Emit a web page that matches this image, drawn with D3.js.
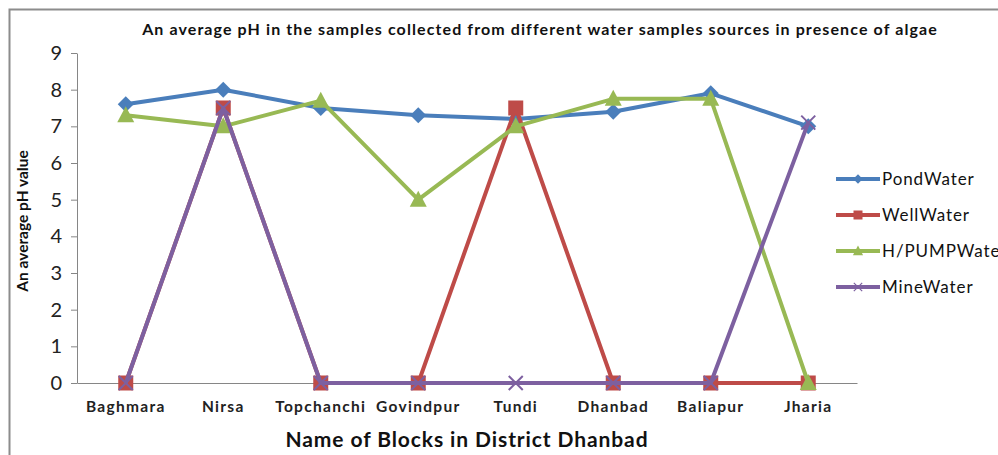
<!DOCTYPE html>
<html>
<head>
<meta charset="utf-8">
<script src="https://cdn.jsdelivr.net/npm/d3@7"></script>
<style>
  body { margin: 0; background: #fff; }
  text { font-family: Lato, "Open Sans", sans-serif; }
</style>
</head>
<body>
<div id="vis"></div>
<script>
// data
const blocks = ["Baghmara", "Nirsa", "Topchanchi", "Govindpur", "Tundi", "Dhanbad", "Baliapur", "Jharia"];
const pondWater = [7.6, 8.0, 7.5, 7.3, 7.2, 7.4, 7.9, 7.0];
const wellWater = [0, 7.5, 0, 0, 7.5, 0, 0, 0];
const pumpWater = [7.3, 7.0, 7.7, 5.0, 7.0, 7.75, 7.75, 0];
const mineWater = [0, 7.5, 0, 0, 0, 0, 0, 7.1];
const yTicks = [0, 1, 2, 3, 4, 5, 6, 7, 8, 9];

const series = [
  { name: "PondWater", values: pondWater, color: "#4a7ebb", marker: "diamond" },
  { name: "WellWater", values: wellWater, color: "#be4b48", marker: "square" },
  { name: "H/PUMPWater", values: pumpWater, color: "#98b954", marker: "triangle" },
  { name: "MineWater", values: mineWater, color: "#7d60a0", marker: "cross" }
];

let W = 998, H = 455;
let margin = { top: 53, left: 77, right: 141, bottom: 72 },
  width = W - margin.left - margin.right,
  height = H - margin.top - margin.bottom;

let svg = d3.select('#vis')
  .append('svg')
  .attr('width', W)
  .attr('height', H);

// outer frame (only left and top edges visible)
svg.append("path")
  .attr("d", `M9.5,${H} V9.5 H${W}`)
  .attr("fill", "none")
  .attr("stroke", "#8c8c8c")
  .attr("stroke-width", 2);

let g = svg.append("g")
  .attr("transform", `translate(${margin.left},${margin.top})`);

const x = d3.scaleBand()
  .domain(blocks)
  .range([0, width]);

const y = d3.scaleLinear()
  .domain([0, 9])
  .range([height, 0]);

// y axis
let yAxis = g.append("g")
  .call(d3.axisLeft(y).tickValues(yTicks).tickSize(6).tickPadding(9).tickSizeOuter(0));
yAxis.select(".domain").attr("stroke", "#868686");
yAxis.selectAll(".tick line").attr("stroke", "#868686");
yAxis.selectAll("text")
  .style("font-size", "20px")
  .style("font-family", "Lato, sans-serif")
  .attr("fill", "#222");

// x axis
let xAxis = g.append("g")
  .attr("transform", `translate(0, ${height})`)
  .call(d3.axisBottom(x).tickSize(0).tickPadding(18));
xAxis.select(".domain").attr("stroke", "#868686");
xAxis.selectAll("text")
  .style("font-size", "15.5px")
  .style("font-weight", "bold")
  .style("letter-spacing", "1.3px")
  .style("font-family", "Lato, sans-serif")
  .attr("fill", "#222");

const cx = d => x(d) + x.bandwidth() / 2;

function drawMarker(sel, type, color) {
  if (type === "diamond") {
    sel.append("path").attr("d", "M0,-8 L8,0 L0,8 L-8,0 Z").attr("fill", color);
  } else if (type === "square") {
    sel.append("rect").attr("x", -7.5).attr("y", -7.5).attr("width", 15).attr("height", 15).attr("fill", color);
  } else if (type === "triangle") {
    sel.append("path").attr("d", "M0,-9 L8.5,7 L-8.5,7 Z").attr("fill", color);
  } else {
    sel.append("path").attr("d", "M-7,-7 L7,7 M-7,7 L7,-7")
      .attr("stroke", color).attr("stroke-width", 2).attr("fill", "none");
  }
}

const line = d3.line()
  .x((d, i) => cx(blocks[i]))
  .y(d => y(d));

series.forEach(s => {
  g.append("path")
    .datum(s.values)
    .attr("fill", "none")
    .attr("stroke", s.color)
    .attr("stroke-width", 4)
    .attr("stroke-linejoin", "round")
    .attr("d", line);

  s.values.forEach((v, i) => {
    let m = g.append("g").attr("transform", `translate(${cx(blocks[i])},${y(v)})`);
    drawMarker(m, s.marker, s.color);
  });
});

// legend
let legend = svg.append("g").attr("transform", "translate(836,179)");
series.forEach((s, i) => {
  let row = legend.append("g").attr("transform", `translate(0, ${i * 36})`);
  row.append("line")
    .attr("x1", 0).attr("x2", 44)
    .attr("stroke", s.color).attr("stroke-width", 4);
  let m = row.append("g").attr("transform", "translate(22,0) scale(0.6)");
  drawMarker(m, s.marker, s.color);
  row.append("text")
    .attr("x", 46)
    .attr("y", 6)
    .style("font-size", "17px")
    .style("letter-spacing", "0.9px")
    .attr("fill", "#111")
    .text(s.name);
});

// title
svg.append("text")
  .attr("x", 540)
  .attr("y", 35)
  .attr("text-anchor", "middle")
  .style("font-size", "16px")
  .style("font-weight", "bold")
  .style("letter-spacing", "1.1px")
  .attr("fill", "#111")
  .text("An average pH in the samples collected from different water samples sources in presence of algae");

// y label
svg.append("text")
  .attr("transform", "translate(28, 221) rotate(-90)")
  .attr("text-anchor", "middle")
  .style("font-size", "15.5px")
  .style("font-weight", "bold")
  .attr("fill", "#111")
  .text("An average pH value");

// x label
svg.append("text")
  .attr("x", 467)
  .attr("y", 447)
  .attr("text-anchor", "middle")
  .style("font-size", "21px")
  .style("font-weight", "bold")
  .style("letter-spacing", "0.9px")
  .attr("fill", "#111")
  .text("Name of Blocks in District Dhanbad");
</script>
</body>
</html>
